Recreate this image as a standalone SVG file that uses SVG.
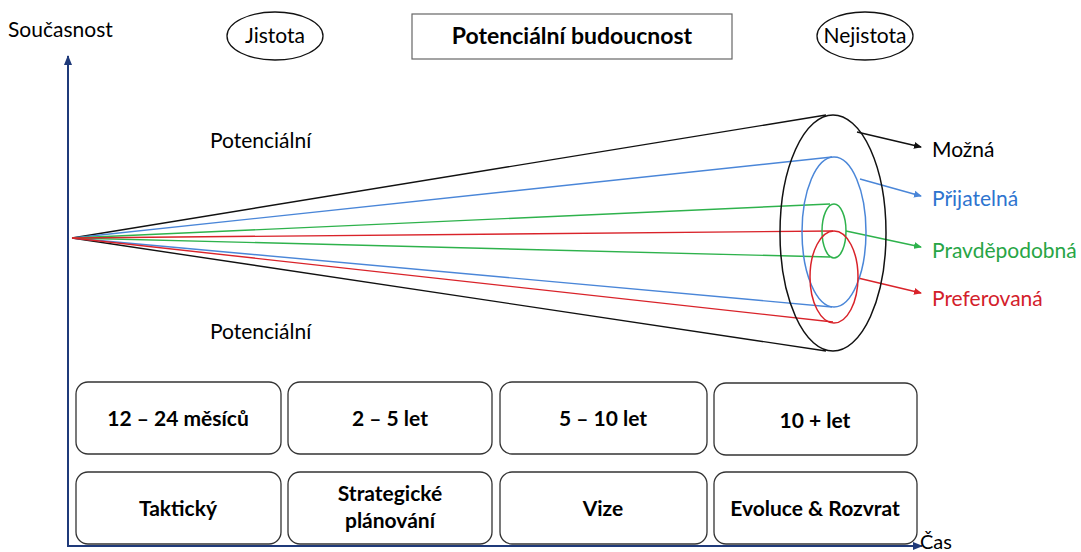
<svg xmlns="http://www.w3.org/2000/svg" width="1081" height="552" viewBox="0 0 1081 552">
<style>
text{font-family:Lato,"Open Sans","Liberation Sans",sans-serif;font-size:21px;fill:#000}
.b{font-weight:bold;text-anchor:middle}
.box{fill:#fff;stroke:#333;stroke-width:1.3}
.el{fill:none;stroke-width:1.5}
.k{stroke:#111}.bl{stroke:#4a86d8}.g{stroke:#2eb24c}.r{stroke:#d9232a}
.ln{fill:none;stroke-width:1.4}
</style>
<defs>
<marker id="ah" markerWidth="8" markerHeight="8" refX="7" refY="4" orient="auto" markerUnits="userSpaceOnUse"><path d="M0,0.5 L8,4 L0,7.5 Z" fill="#111"/></marker>
<marker id="ab" markerWidth="8" markerHeight="8" refX="7" refY="4" orient="auto" markerUnits="userSpaceOnUse"><path d="M0,0.5 L8,4 L0,7.5 Z" fill="#4a86d8"/></marker>
<marker id="ag" markerWidth="8" markerHeight="8" refX="7" refY="4" orient="auto" markerUnits="userSpaceOnUse"><path d="M0,0.5 L8,4 L0,7.5 Z" fill="#2eb24c"/></marker>
<marker id="ar" markerWidth="8" markerHeight="8" refX="7" refY="4" orient="auto" markerUnits="userSpaceOnUse"><path d="M0,0.5 L8,4 L0,7.5 Z" fill="#d9232a"/></marker>
<marker id="ax" markerWidth="10" markerHeight="10" refX="9" refY="5" orient="auto" markerUnits="userSpaceOnUse"><path d="M0,1 L10,5 L0,9 Z" fill="#1f3a7a"/></marker>
</defs>
<rect width="1081" height="552" fill="#fff"/>

<g id="axes">
<line x1="68" y1="547" x2="68" y2="56" stroke="#1f3a7a" stroke-width="2" marker-end="url(#ax)"/>
<line x1="67" y1="546" x2="922" y2="546" stroke="#1f3a7a" stroke-width="2" marker-end="url(#ax)"/>
<text x="8" y="37">Současnost</text>
<text x="920" y="549" style="font-size:20px">Čas</text>
</g>

<g id="header">
<g id="jistota"><ellipse cx="275" cy="36" rx="48" ry="24" fill="#fff" stroke="#111" stroke-width="1.3"/><text x="275" y="43" text-anchor="middle">Jistota</text></g>
<g id="title"><rect x="412" y="14" width="320" height="45" fill="#fff" stroke="#666" stroke-width="1.2"/><text x="572" y="44" class="b" style="font-size:23px">Potenciální budoucnost</text></g>
<g id="nejistota"><ellipse cx="865" cy="36" rx="48" ry="24" fill="#fff" stroke="#111" stroke-width="1.3"/><text x="865" y="43" text-anchor="middle">Nejistota</text></g>
</g>

<g id="connectors">
<line class="ln k" x1="72" y1="238" x2="826" y2="115"/>
<line class="ln k" x1="72" y1="238" x2="826" y2="351"/>
<line class="ln bl" x1="72" y1="238" x2="832" y2="157"/>
<line class="ln bl" x1="72" y1="238" x2="832" y2="307"/>
<line class="ln g" x1="72" y1="238" x2="830" y2="204"/>
<line class="ln g" x1="72" y1="238" x2="830" y2="257"/>
<line class="ln r" x1="72" y1="238" x2="833" y2="231"/>
<line class="ln r" x1="72" y1="238" x2="833" y2="322"/>
<line class="ln k" x1="857" y1="132" x2="921" y2="147" marker-end="url(#ah)"/>
<line class="ln bl" x1="860" y1="179" x2="921" y2="196" marker-end="url(#ab)"/>
<line class="ln g" x1="846" y1="231" x2="921" y2="247" marker-end="url(#ag)"/>
<line class="ln r" x1="858" y1="278" x2="921" y2="293" marker-end="url(#ar)"/>
</g>

<g id="cone">
<ellipse class="el k" cx="833" cy="233" rx="53" ry="118"/>
<ellipse class="el bl" cx="834" cy="232" rx="32" ry="75"/>
<ellipse class="el g" cx="834" cy="231" rx="12" ry="27"/>
<ellipse class="el r" cx="834" cy="277" rx="24" ry="46"/>
</g>

<g id="labels">
<text x="210" y="148">Potenciální</text>
<text x="210" y="339">Potenciální</text>
<text x="932" y="157">Možná</text>
<text x="932" y="206" style="fill:#2e74cf">Přijatelná</text>
<text x="932" y="258" style="fill:#27a545">Pravděpodobná</text>
<text x="932" y="306" style="fill:#d3202a">Preferovaná</text>
</g>

<g id="b1"><rect class="box" x="76" y="382" width="205" height="72" rx="12"/><text class="b" x="178" y="426">12 – 24 měsíců</text></g>
<g id="b2"><rect class="box" x="288" y="382" width="204" height="72" rx="12"/><text class="b" x="390" y="426">2 – 5 let</text></g>
<g id="b3"><rect class="box" x="500" y="382" width="207" height="72" rx="12"/><text class="b" x="603" y="426">5 – 10 let</text></g>
<g id="b4"><rect class="box" x="714" y="383" width="203" height="72" rx="12"/><text class="b" x="815" y="428">10 + let</text></g>
<g id="b5"><rect class="box" x="76" y="472" width="205" height="72" rx="12"/><text class="b" x="178" y="516">Taktický</text></g>
<g id="b6"><rect class="box" x="288" y="472" width="204" height="72" rx="12"/><text class="b" x="390" y="501">Strategické</text><text class="b" x="390" y="528">plánování</text></g>
<g id="b7"><rect class="box" x="500" y="472" width="207" height="72" rx="12"/><text class="b" x="603" y="516">Vize</text></g>
<g id="b8"><rect class="box" x="714" y="472" width="203" height="72" rx="12"/><text class="b" x="815" y="516">Evoluce &amp; Rozvrat</text></g>
</svg>
